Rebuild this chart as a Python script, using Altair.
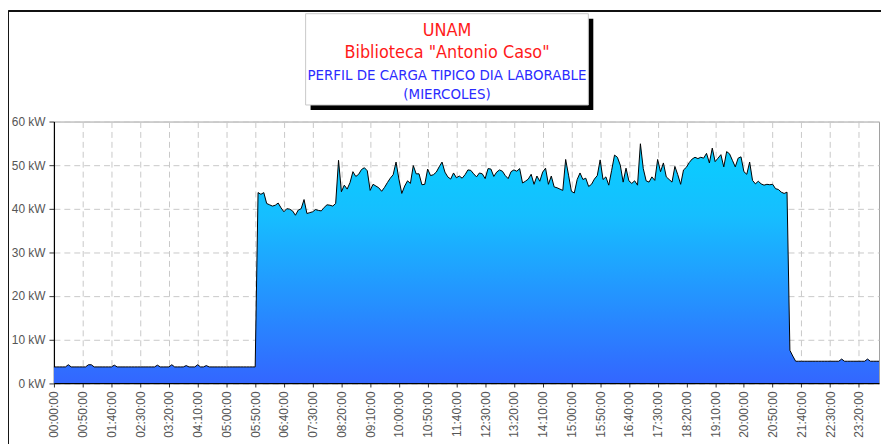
import altair as alt
import pandas as pd

# ---- data: 5-minute load profile (kW), 00:00 .. 23:55 ----
night_am = [3.7] * 71
for idx, v in {5: 4.2, 12: 4.2, 13: 4.2, 21: 4.1, 36: 4.1, 41: 4.2, 46: 4.0, 50: 4.2, 53: 4.0}.items():
    night_am[idx] = v

morning = [43.7, 43.3, 43.7, 41.2, 40.9, 40.6, 40.8, 41.3, 40.2, 39.3,
           40.0, 39.9, 39.5, 38.5, 39.7, 40.0, 42.1, 38.9, 39.1, 39.3,
           39.8, 39.6, 39.5, 40.3, 40.9, 40.8, 40.6, 41.2, 51.1, 43.9,
           45.4, 44.5, 46.0, 48.5, 47.4, 47.9, 49.0, 49.4, 48.7, 44.2,
           45.6, 45.2, 44.8, 44.0, 44.9, 46.0, 47.0, 47.8, 50.7, 46.8,
           43.5, 45.2, 46.4, 45.8, 49.9, 48.0, 48.0, 45.5, 45.6, 49.1,
           47.6, 47.8, 48.4, 49.6, 50.7, 48.4, 47.3, 46.8, 48.2, 47.1,
           47.5, 47.0, 47.8, 48.9, 48.8, 48.0, 47.3, 48.2, 48.0, 46.9,
           49.2, 49.1, 47.4, 48.4, 48.9, 48.6, 47.6, 46.9, 48.5, 48.9,
           48.6]
midday = [49.2, 45.9, 46.3, 46.8, 47.9, 45.6, 47.5, 46.3, 48.4, 49.3,
          45.6, 47.5, 45.0, 44.8, 44.5, 44.2]
afternoon = [51.3, 47.7, 44.0, 43.6, 46.7, 48.2, 46.7, 47.0, 45.1, 45.6,
             46.8, 47.6, 51.2, 46.7, 47.3, 45.4, 48.8, 52.3, 51.8, 50.0,
             46.1, 49.3, 46.4, 45.8, 46.4, 45.4, 54.9, 49.2, 46.4, 46.1,
             47.3, 46.5, 51.3, 48.5, 50.5, 47.3, 46.7, 46.1, 49.7, 47.8,
             45.6, 48.9, 49.5, 50.6, 51.4, 51.8, 51.5, 51.8, 51.6, 52.7,
             50.5, 53.9, 50.8, 51.6, 52.4, 49.6, 53.1, 52.6, 51.1, 49.6,
             51.6, 51.9, 48.5, 47.9, 50.7, 46.5, 45.7, 46.3, 45.7, 45.4,
             45.6, 45.5, 45.6, 44.6, 44.4, 43.8, 43.5, 43.8]
night_pm = [7.5, 6.2] + [5.0] * 30
night_pm[274 - 256] = 5.5
night_pm[283 - 256] = 5.5

kw = night_am + morning + midday + afternoon + night_pm
minutes = [5 * i for i in range(len(kw))]

title_lines = ["UNAM", 'Biblioteca "Antonio Caso"',
               "PERFIL DE CARGA TIPICO DIA LABORABLE", "(MIERCOLES)"]
title_colors = ["#FF1A1A", "#FF1A1A", "#2B2BFF", "#2B2BFF"]
title_sizes = [18, 18, 15, 15]
tick_minutes = list(range(0, 1401, 50))

df = pd.DataFrame({"t": minutes, "kw": kw})
one = pd.DataFrame({"a": [0]})

W, H = 831.7, 263.6
narrow = "'Liberation Sans Narrow', 'DejaVu Sans Condensed', 'Arial Narrow', sans-serif"

label_expr = ("(floor(datum.value/60) < 10 ? '0' : '') + floor(datum.value/60) + ':' + "
              "(datum.value % 60 < 10 ? '0' : '') + (datum.value % 60) + ':00'")

area = alt.Chart(df).mark_area(
    line={"color": "black", "strokeWidth": 1},
    opacity=1, fillOpacity=1,
    color=alt.Gradient(
        gradient="linear",
        stops=[alt.GradientStop(color="#08CFFF", offset=0),
               alt.GradientStop(color="#16BEFF", offset=0.3),
               alt.GradientStop(color="#3366FF", offset=1)],
        x1=1, x2=1, y1=0, y2=1),
).encode(
    x=alt.X("t:Q", scale=alt.Scale(domain=[0, 1435], nice=False, zero=False),
            axis=alt.Axis(values=tick_minutes, labelExpr=label_expr, labelAngle=270,
                          labelAlign="right", labelBaseline="middle", title=None,
                          labelPadding=4, tickSize=4)),
    y=alt.Y("kw:Q", scale=alt.Scale(domain=[0, 60], nice=False),
            axis=alt.Axis(values=[0, 10, 20, 30, 40, 50, 60], labelExpr="datum.value + ' kW'",
                          title=None, tickSize=5, labelPadding=4)),
)

frame_top = alt.Chart(one).mark_rule(color="#111", strokeWidth=2).encode(
    x=alt.value(-46), x2=alt.value(900), y=alt.value(-111.5))
frame_left = alt.Chart(one).mark_rule(color="#111", strokeWidth=1).encode(
    x=alt.value(-45.8), y=alt.value(-112), y2=alt.value(400))

shadow = alt.Chart(one).mark_rect(color="black").encode(
    x=alt.value(258.7), x2=alt.value(543.7), y=alt.value(-103.7), y2=alt.value(-11.7))
box = alt.Chart(one).mark_rect(fill="white", stroke="#c8c8c8", strokeWidth=1).encode(
    x=alt.value(253.7), x2=alt.value(538.7), y=alt.value(-108.7), y2=alt.value(-16.7))

ys = [-91.0, -69.0, -46.5, -28.0]
texts = []
for txt, col, sz, yy in zip(title_lines, title_colors, title_sizes, ys):
    texts.append(alt.Chart(one).mark_text(text=txt, color=col, fontSize=sz, font=narrow,
                                          align="center", baseline="middle").encode(
        x=alt.value(396.2), y=alt.value(yy)))

chart = alt.layer(frame_top, frame_left, area, shadow, box, *texts).properties(
    width=W, height=H,
    autosize=alt.AutoSizeParams(type="none"),
    padding={"left": 46.3, "top": 112.7, "right": 2, "bottom": 60},
).configure_view(stroke="#a0a0a0", strokeWidth=1).configure_axis(
    domainColor="black", domainWidth=1.2, tickColor="#333",
    labelColor="#555", labelFont="Liberation Sans", labelFontSize=12,
    gridColor="#c8c8c8", gridDash=[6, 4], gridWidth=1, grid=True,
)

chart.save("out.html", embed_options={"renderer": "svg", "actions": False})
